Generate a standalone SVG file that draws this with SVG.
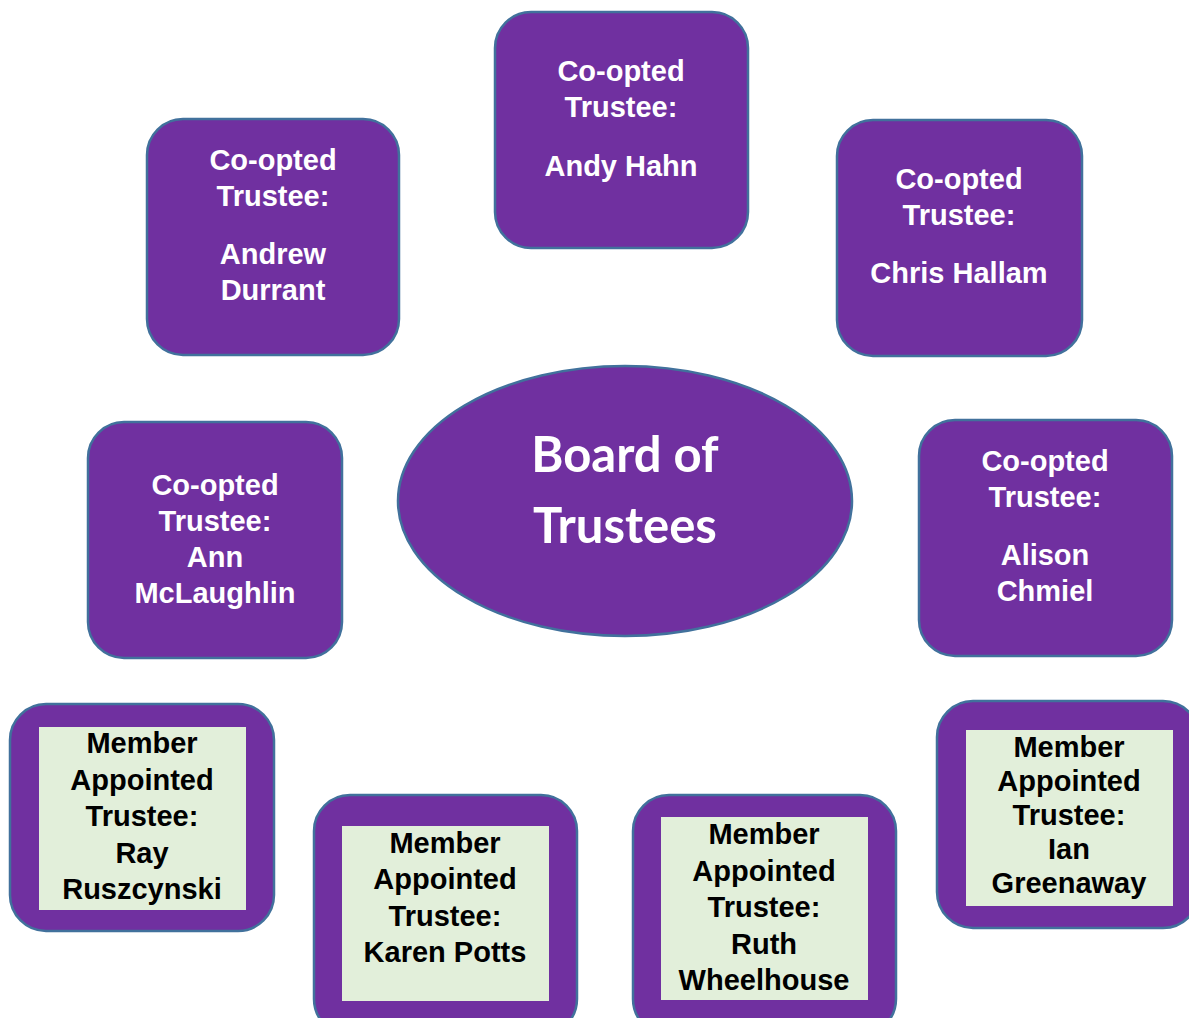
<svg xmlns="http://www.w3.org/2000/svg" width="1189" height="1018" viewBox="0 0 1189 1018">
  <style>
    .box { fill: #7030A0; stroke: #41719C; stroke-width: 2.5; }
    .inner { fill: #E2EFDA; }
    .co { font-family: "Liberation Sans", Arial, sans-serif; font-weight: bold; font-size: 29px; fill: #FFFFFF; text-anchor: middle; }
    .mem { font-family: "Liberation Sans", Arial, sans-serif; font-weight: bold; font-size: 29px; fill: #000000; text-anchor: middle; }
    .board { font-family: Lato, "Open Sans", sans-serif; font-weight: bold; font-size: 49px; fill: #FFFFFF; text-anchor: middle; }
  </style>

  <!-- centre: the board -->
  <g id="board">
    <ellipse class="box" cx="625" cy="501" rx="227" ry="135"/>
    <text class="board" x="625" y="472">Board of</text>
    <text class="board" x="625" y="543">Trustees</text>
  </g>

  <!-- co-opted trustees -->
  <g id="andy-hahn">
    <rect class="box" x="495" y="12" width="253" height="236" rx="36"/>
    <text class="co" x="621" y="81">Co-opted</text>
    <text class="co" x="621" y="117">Trustee:</text>
    <text class="co" x="621" y="176">Andy Hahn</text>
  </g>

  <g id="andrew-durrant">
    <rect class="box" x="147" y="119" width="252" height="236" rx="36"/>
    <text class="co" x="273" y="170">Co-opted</text>
    <text class="co" x="273" y="206">Trustee:</text>
    <text class="co" x="273" y="264">Andrew</text>
    <text class="co" x="273" y="300">Durrant</text>
  </g>

  <g id="chris-hallam">
    <rect class="box" x="837" y="120" width="245" height="236" rx="36"/>
    <text class="co" x="959" y="189">Co-opted</text>
    <text class="co" x="959" y="225">Trustee:</text>
    <text class="co" x="959" y="283">Chris Hallam</text>
  </g>

  <g id="ann-mclaughlin">
    <rect class="box" x="88" y="422" width="254" height="236" rx="36"/>
    <text class="co" x="215" y="495">Co-opted</text>
    <text class="co" x="215" y="531">Trustee:</text>
    <text class="co" x="215" y="567">Ann</text>
    <text class="co" x="215" y="603">McLaughlin</text>
  </g>

  <g id="alison-chmiel">
    <rect class="box" x="919" y="420" width="253" height="236" rx="36"/>
    <text class="co" x="1045" y="471">Co-opted</text>
    <text class="co" x="1045" y="507">Trustee:</text>
    <text class="co" x="1045" y="565">Alison</text>
    <text class="co" x="1045" y="601">Chmiel</text>
  </g>

  <!-- member appointed trustees -->
  <g id="ray-ruszcynski">
    <rect class="box" x="10" y="704" width="264" height="227" rx="36"/>
    <rect class="inner" x="39" y="727" width="207" height="183"/>
    <text class="mem" x="142" y="753">Member</text>
    <text class="mem" x="142" y="790">Appointed</text>
    <text class="mem" x="142" y="826">Trustee:</text>
    <text class="mem" x="142" y="863">Ray</text>
    <text class="mem" x="142" y="899">Ruszcynski</text>
  </g>

  <g id="karen-potts">
    <rect class="box" x="314" y="795" width="263" height="240" rx="36"/>
    <rect class="inner" x="342" y="826" width="207" height="175"/>
    <text class="mem" x="445" y="853">Member</text>
    <text class="mem" x="445" y="889">Appointed</text>
    <text class="mem" x="445" y="926">Trustee:</text>
    <text class="mem" x="445" y="962">Karen Potts</text>
  </g>

  <g id="ruth-wheelhouse">
    <rect class="box" x="633" y="795" width="263" height="240" rx="36"/>
    <rect class="inner" x="661" y="817" width="207" height="183"/>
    <text class="mem" x="764" y="844">Member</text>
    <text class="mem" x="764" y="881">Appointed</text>
    <text class="mem" x="764" y="917">Trustee:</text>
    <text class="mem" x="764" y="954">Ruth</text>
    <text class="mem" x="764" y="990">Wheelhouse</text>
  </g>

  <g id="ian-greenaway">
    <rect class="box" x="937" y="701" width="262" height="227" rx="36"/>
    <rect class="inner" x="966" y="730" width="207" height="176"/>
    <text class="mem" x="1069" y="757">Member</text>
    <text class="mem" x="1069" y="791">Appointed</text>
    <text class="mem" x="1069" y="825">Trustee:</text>
    <text class="mem" x="1069" y="859">Ian</text>
    <text class="mem" x="1069" y="893">Greenaway</text>
  </g>

  <!-- no connectors are drawn between the nodes -->
  <g id="connectors"/>
</svg>
